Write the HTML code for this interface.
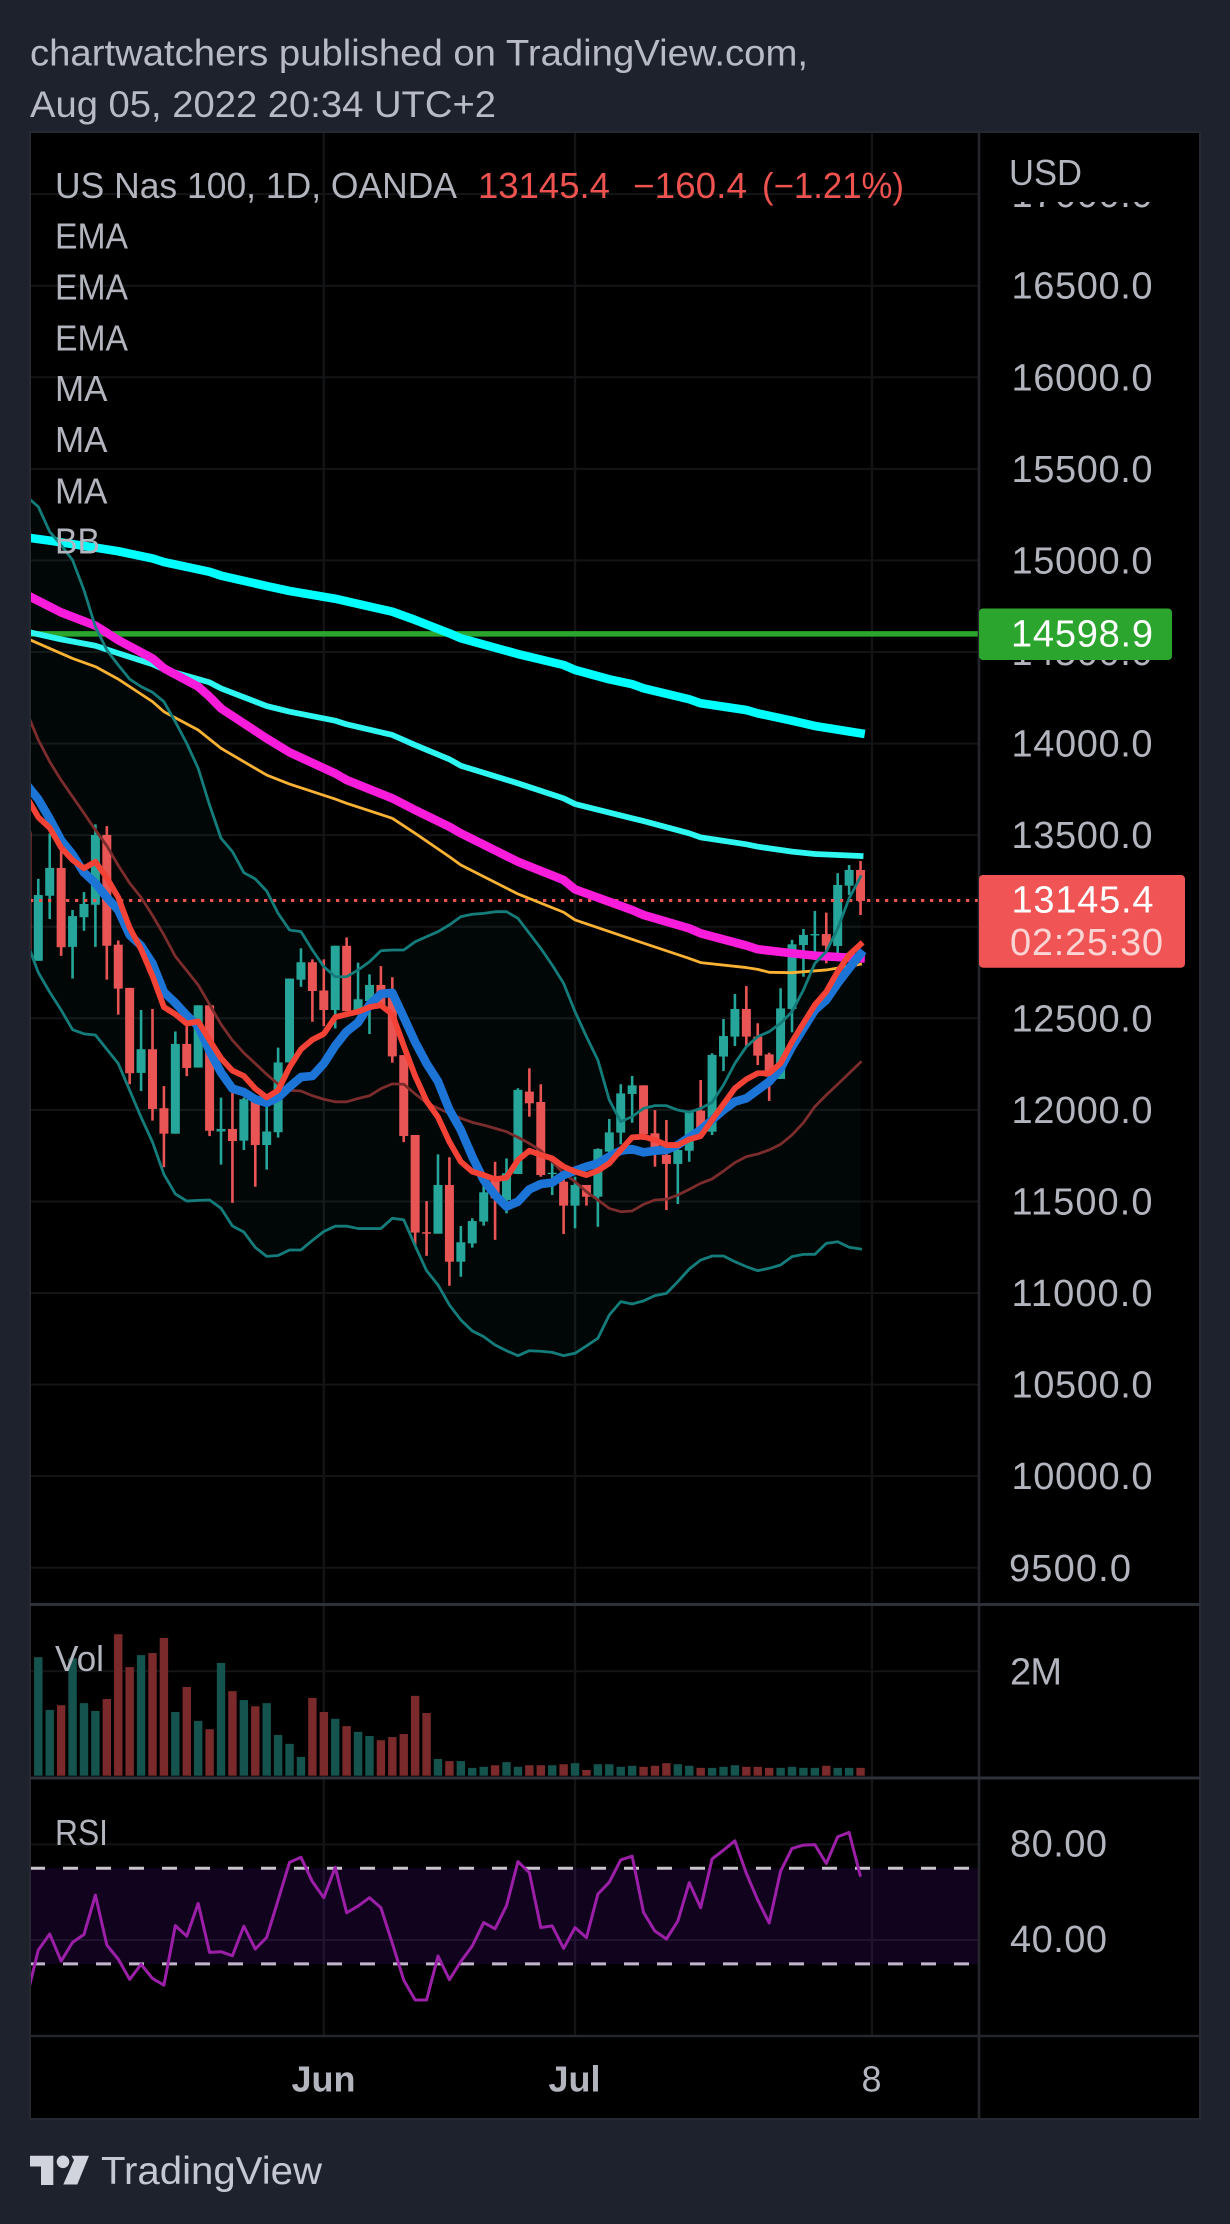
<!DOCTYPE html>
<html lang="en">
<head>
<meta charset="utf-8">
<title>US Nas 100 chart</title>
<style>
html,body{margin:0;padding:0;background:#1e222d;width:1230px;height:2224px;overflow:hidden}
svg{display:block;font-family:"Liberation Sans",sans-serif}
text{fill:#b2b5be}
</style>
</head>
<body>
<svg id="chart" xmlns="http://www.w3.org/2000/svg" width="1230" height="2224" viewBox="0 0 1230 2224">
<defs>
<clipPath id="price-clip"><rect x="30" y="133" width="949" height="1470"/></clipPath>
<clipPath id="volume-clip"><rect x="31" y="1606" width="948" height="171"/></clipPath>
<clipPath id="pane-clip"><rect x="30" y="133" width="949" height="1903"/></clipPath>
<clipPath id="axis-clip"><rect x="981" y="202" width="218" height="1400"/></clipPath>
</defs>
<rect x="0" y="0" width="1230" height="2224" fill="#1e222d"/>
<text x="30" y="65.6" font-size="37" textLength="778" lengthAdjust="spacingAndGlyphs" style="fill:#b8bbc6">chartwatchers published on TradingView.com,</text>
<text x="30" y="117" font-size="37" textLength="466" lengthAdjust="spacingAndGlyphs" style="fill:#b8bbc6">Aug 05, 2022 20:34 UTC+2</text>
<rect x="30" y="132" width="1170" height="1987" fill="#000"/>
<g id="grid"></g>
<g id="bb-fill-layer" clip-path="url(#price-clip)"></g>
<g id="candles" clip-path="url(#price-clip)"></g>
<line x1="30" x2="979" y1="900.5" y2="900.5" stroke="#ef5350" stroke-width="3" stroke-dasharray="3.3 5.7"/>
<g id="lines" clip-path="url(#price-clip)"></g>
<g id="volume" clip-path="url(#volume-clip)"></g>
<g id="rsi" clip-path="url(#pane-clip)"></g>
<g id="axis-labels" clip-path="url(#axis-clip)"></g>

<g fill="none">
<rect x="30" y="132" width="1170" height="1987" stroke="#262932" stroke-width="2"/>
<line x1="979" x2="979" y1="132" y2="2119" stroke="#24262c" stroke-width="2.6"/>
<line x1="30" x2="1200" y1="1604.5" y2="1604.5" stroke="#2e303a" stroke-width="3"/>
<line x1="30" x2="1200" y1="1778" y2="1778" stroke="#2e303a" stroke-width="3"/>
<line x1="30" x2="1200" y1="2036" y2="2036" stroke="#24262c" stroke-width="2.6"/>
</g>

<rect x="979" y="608.5" width="193" height="51.5" rx="4" fill="#2ba52e"/>
<text x="1011" y="646.4" font-size="38" textLength="142" style="fill:#fff">14598.9</text>
<rect x="979" y="875" width="206" height="92.7" rx="4" fill="#f05454"/>
<text x="1011.5" y="912.7" font-size="38" textLength="142" style="fill:#fff">13145.4</text>
<text x="1010" y="955" font-size="38" textLength="153" style="fill:#fbd4d3">02:25:30</text>
<rect x="981" y="134" width="218" height="68" fill="#000"/>
<text x="1009" y="185" font-size="36" textLength="73" lengthAdjust="spacingAndGlyphs">USD</text>

<g font-size="36">
<text x="55" y="198" textLength="402" lengthAdjust="spacingAndGlyphs">US Nas 100, 1D, OANDA</text>
<text x="478" y="198" textLength="132" lengthAdjust="spacingAndGlyphs" style="fill:#ef5350">13145.4</text>
<text x="633" y="198" textLength="114" lengthAdjust="spacingAndGlyphs" style="fill:#ef5350">−160.4</text>
<text x="762" y="198" textLength="142" lengthAdjust="spacingAndGlyphs" style="fill:#ef5350">(−1.21%)</text>
<text x="55" y="248.7" textLength="73" lengthAdjust="spacingAndGlyphs">EMA</text>
<text x="55" y="299.5" textLength="73" lengthAdjust="spacingAndGlyphs">EMA</text>
<text x="55" y="350.4" textLength="73" lengthAdjust="spacingAndGlyphs">EMA</text>
<text x="55" y="401" textLength="52.5" lengthAdjust="spacingAndGlyphs">MA</text>
<text x="55" y="452" textLength="52.5" lengthAdjust="spacingAndGlyphs">MA</text>
<text x="55" y="503.6" textLength="52.5" lengthAdjust="spacingAndGlyphs">MA</text>
<text x="55" y="553.6" textLength="45" lengthAdjust="spacingAndGlyphs">BB</text>
<text x="55" y="1671" textLength="49" lengthAdjust="spacingAndGlyphs">Vol</text>
<text x="55" y="1845" textLength="53" lengthAdjust="spacingAndGlyphs">RSI</text>
</g>

<text x="323.5" y="2091.7" font-size="36" font-weight="700" text-anchor="middle">Jun</text>
<text x="574.5" y="2091.7" font-size="36" font-weight="700" text-anchor="middle">Jul</text>
<text x="871.5" y="2091.7" font-size="36" text-anchor="middle">8</text>

<g>
<polygon points="30,2155.7 53.3,2155.7 53.3,2185 41,2185 41,2166.5 30,2166.5" fill="#d1d4dc"/>
<circle cx="63" cy="2161.8" r="6.3" fill="#d1d4dc"/>
<polygon points="71.5,2155.7 89,2155.7 77.3,2184.5 63.3,2184.5 74,2160" fill="#d1d4dc"/>
<text x="101" y="2184" font-size="39" textLength="221" lengthAdjust="spacingAndGlyphs" style="fill:#c5c8d2">TradingView</text>
</g>
</svg>

<script>
// ---------- chart data (first entry of each per-bar array is the bar cut off at the left edge) ----------
const opens = [13520,12814,13169,13321,12890,13052,13120,13501,12902,12666,12202,12331,12009,11870,12360,12231,12571,11882,11896,11832,12058,11808,11878,12259,12711,12806,12652,12545,12896,12535,12594,12682,12613,12299,11863,11332,11324,11590,11171,11271,11390,11620,11508,11650,12100,12043,11650,11608,11477,11590,11526,11772,11876,12087,12134,11872,11754,11705,11777,11996,11881,12291,12400,12551,12400,12303,12169,12551,12900,12955,12960,12895,13224,13310];
const highs = [13530,13261,13510,13422,13091,13189,13559,13549,12925,12666,12545,12551,12130,12428,12477,12571,12571,12067,12097,12067,12067,12038,12340,12717,12882,12822,12822,12896,12941,12804,12740,12785,12724,12299,11863,11502,11757,11741,11366,11408,11599,11717,11735,12118,12227,12140,11745,11635,11635,11590,11790,11950,12140,12185,12134,11999,11945,11790,11996,12163,12309,12496,12633,12676,12473,12312,12664,12928,12988,13086,13077,13292,13337,13359];
const lows = [12840,12814,13042,12841,12717,12978,12890,12711,12520,12140,12103,11941,11687,11870,12184,12231,11857,11701,11492,11781,11580,11674,11849,12259,12672,12481,12457,12444,12539,12535,12414,12565,12258,11824,11258,11203,11324,11040,11089,11248,11368,11290,11435,11650,11963,11635,11535,11322,11353,11477,11362,11763,11812,11930,11836,11690,11453,11486,11717,11854,11863,12212,12349,12345,12245,12049,12169,12423,12727,12818,12800,12855,13173,13064];
const closes = [12850,13173,13321,12888,13058,13124,13501,12896,12662,12200,12331,12005,11870,12360,12229,12571,11886,11896,11830,12058,11808,11882,12259,12717,12806,12649,12545,12896,12539,12604,12682,12565,12292,11857,11330,11324,11590,11171,11277,11393,11550,11517,11654,12109,12036,11644,11657,11477,11590,11526,11786,11877,12090,12134,11867,11790,11705,11781,11990,11872,12300,12403,12551,12400,12296,12181,12554,12904,12955,12960,12897,13228,13310,13141];
const volumesM = [0.9,2.27,1.26,1.35,2.25,1.39,1.24,1.47,2.71,2.08,2.31,2.35,2.64,1.22,1.70,1.05,0.89,2.16,1.62,1.45,1.33,1.39,0.78,0.61,0.36,1.49,1.22,1.09,0.95,0.84,0.76,0.68,0.74,0.80,1.53,1.20,0.32,0.28,0.28,0.15,0.17,0.20,0.26,0.17,0.20,0.20,0.20,0.22,0.24,0.11,0.22,0.22,0.17,0.19,0.17,0.19,0.24,0.22,0.19,0.15,0.15,0.17,0.20,0.17,0.17,0.15,0.15,0.17,0.15,0.15,0.19,0.15,0.15,0.15];
const rsiValues = [16.3,35.8,42.5,31.2,39,42.3,58.8,37.9,32,23.5,29.8,23.9,21.1,46,41.6,55.3,34.8,35.1,33.4,45.8,36.2,41.1,56.7,72.5,74.6,64.4,57.7,70.4,51.4,54.2,57.7,53.5,38.6,23.2,14.9,14.9,33.3,23.4,31,37.5,47.3,44.7,54.4,72.8,68.2,45.2,45.9,36.5,45.2,41,59.2,64.2,73.5,75.1,51.5,43.7,40.4,47.9,64,53.5,73.9,77.6,81.5,67.9,56.7,47.1,68.8,78.3,79.7,79.9,72,83.2,85,66.5];
const bbUpper = [15348,15293,15157,15084,15002,14838,14638,14511,14429,14352,14311,14280,14229,14119,14001,13865,13664,13483,13410,13295,13261,13195,13073,12982,12973,12873,12782,12727,12727,12764,12809,12869,12873,12873,12918,12946,12973,13010,13055,13068,13073,13082,13082,13046,12964,12882,12791,12691,12536,12400,12272,12054,11936,11963,12008,12023,12023,11999,11987,12008,12041,12136,12254,12345,12400,12427,12473,12536,12655,12800,12864,12991,13155,13273];
const bbLower = [12916,12750,12643,12545,12438,12415,12409,12331,12253,12107,11960,11824,11648,11541,11502,11506,11508,11463,11366,11333,11249,11200,11205,11235,11235,11287,11336,11365,11365,11352,11352,11352,11408,11400,11258,11122,11044,10935,10853,10793,10762,10716,10685,10658,10685,10682,10676,10658,10671,10711,10753,10880,10953,10940,10957,10986,10998,11062,11131,11180,11202,11202,11171,11144,11122,11135,11153,11199,11211,11211,11271,11280,11250,11240];
const bbBasis = [14170,14020,13901,13800,13710,13620,13528,13442,13335,13238,13160,13062,12955,12838,12760,12682,12575,12467,12380,12311,12253,12194,12140,12107,12103,12077,12058,12044,12044,12062,12077,12116,12142,12140,12087,12038,12009,11981,11954,11932,11917,11899,11881,11850,11817,11777,11717,11654,11608,11553,11508,11462,11444,11448,11484,11508,11512,11535,11566,11599,11623,11666,11712,11745,11759,11781,11812,11863,11930,12018,12081,12140,12200,12260];
const emaFast = [13706,13598,13540,13432,13364,13319,13355,13267,13160,12994,12877,12731,12561,12522,12471,12483,12380,12282,12214,12185,12116,12068,12107,12233,12331,12383,12415,12506,12522,12536,12561,12571,12522,12350,12185,12048,11960,11825,11717,11663,11644,11621,11630,11726,11777,11754,11735,11690,11663,11644,11668,11708,11781,11850,11854,11836,11808,11808,11839,11857,11945,12032,12118,12167,12200,12200,12254,12372,12473,12573,12645,12755,12846,12904];
const emaMid = [13774,13696,13589,13472,13394,13296,13238,13160,13091,12955,12896,12799,12643,12584,12516,12458,12321,12204,12116,12097,12058,12038,12068,12126,12179,12185,12253,12350,12428,12477,12574,12633,12639,12506,12370,12253,12155,12000,11890,11745,11617,11535,11472,11499,11566,11595,11603,11644,11668,11690,11708,11745,11777,11786,11768,11777,11781,11808,11850,11890,11945,12000,12045,12063,12109,12154,12227,12345,12445,12545,12600,12691,12773,12851];

// Slow averages, read at the bars where their slope visibly changes.
const ma200Bars = [-1,1,5,7,10,11,15,16,20,22,26,27,31,33,36,37,42,46,47,50,52,53,57,58,62,63,66,68,72];
const ma200Values = [15125,15108,15070,15050,15011,14991,14938,14917,14860,14833,14791,14777,14720,14675,14602,14575,14489,14429,14402,14351,14324,14302,14242,14220,14183,14165,14125,14096,14056];
const ema200Bars = [-1,2,5,7,10,11,14,15,16,20,22,26,27,31,33,36,37,42,46,47,52,53,57,58,62,63,66,68,72];
const ema200Values = [14611,14569,14534,14493,14433,14405,14352,14334,14301,14205,14174,14125,14105,14047,13992,13914,13879,13783,13701,13670,13592,13577,13510,13488,13450,13437,13410,13397,13386];
const ma100Bars = [-1,2,5,6,7,10,11,14,15,16,20,22,26,27,31,33,36,37,42,46,47,52,53,57,58,62,63,66,68,71,72];
const ma100Values = [14811,14716,14644,14605,14565,14465,14411,14311,14256,14192,14028,13952,13837,13801,13701,13637,13546,13510,13355,13255,13204,13091,13064,12991,12964,12897,12877,12855,12842,12831,12828];
const ema100Bars = [-1,3,5,7,10,11,14,16,20,22,26,27,31,33,36,37,42,46,47,52,57,58,62,63,64,66,69,72];
const ema100Values = [14574,14465,14420,14352,14229,14174,14074,13974,13828,13779,13697,13674,13592,13510,13382,13337,13179,13079,13037,12931,12827,12804,12777,12767,12751,12749,12764,12795];

const priceTicks = [17000,16500,16000,15500,15000,14500,14000,13500,13000,12500,12000,11500,11000,10500,10000,9500];
const resistanceLevel = [14598.9];
const volumeTicks = [2];
const volumeTickLabels = ['2M'];
const rsiTicks = [80,40];
const rsiBands = [70,30];
const timeTickBars = [25,47,73];

// ---------- axis functions ----------
const xBar = i => 38.3 + 11.42 * i;
const yPrice = p => 1018.3 + (12500 - p) * 0.18315;
const yVolume = v => 1775.7 - v * 52.2;
const yRsi = r => 1940 + (40 - r) * 2.39;
const SVGNS = 'http://www.w3.org/2000/svg';
function make(tag, attrs, parent) {
  const el = document.createElementNS(SVGNS, tag);
  for (const k in attrs) el.setAttribute(k, attrs[k]);
  parent.appendChild(el);
  return el;
}
const perBarPoints = (vals, yFn) => vals.map((v, k) => xBar(k - 1).toFixed(2) + ',' + yFn(v).toFixed(2));
const sparsePoints = (bars, vals, yFn) => bars.map((b, k) => xBar(b).toFixed(2) + ',' + yFn(vals[k]).toFixed(2));

// ---------- grid ----------
const gridG = document.getElementById('grid');
priceTicks.forEach(p => {
  const el = make('line', {x1:30, x2:979, y1:yPrice(p), y2:yPrice(p), stroke:'#131416', 'stroke-width':2}, gridG);
  
  
});
volumeTicks.forEach(v => {
  const el = make('line', {x1:30, x2:979, y1:yVolume(v), y2:yVolume(v), stroke:'#131416', 'stroke-width':2}, gridG);
  
  
});
rsiTicks.forEach(r => {
  const el = make('line', {x1:30, x2:979, y1:yRsi(r), y2:yRsi(r), stroke:'#131416', 'stroke-width':2}, gridG);
  
  
});
timeTickBars.forEach(b => {
  const el = make('line', {x1:xBar(b), x2:xBar(b), y1:133, y2:2036, stroke:'#131416', 'stroke-width':2.4}, gridG);
  
  
});

// ---------- bollinger fill ----------
const fillPts = perBarPoints(bbUpper, yPrice).concat(perBarPoints(bbLower, yPrice).reverse()).join(' ');
const bbFill = make('polygon', {points:fillPts, fill:'#26a69a', 'fill-opacity':0.04}, document.getElementById('bb-fill-layer'));



// ---------- candles ----------
const candleG = document.getElementById('candles');
closes.forEach((c, k) => {
  const o = opens[k];
  const up = c >= o;
  const col = up ? '#26a69a' : '#e95555';
  const x = xBar(k - 1);
  const wick = make('line', {x1:x, x2:x, y1:yPrice(highs[k]), y2:yPrice(lows[k]), stroke:col, 'stroke-width':2.6}, candleG);
  
  
  const top = yPrice(Math.max(o, c));
  const bot = yPrice(Math.min(o, c));
  const body = make('rect', {x:x - 4.5, y:top, width:9, height:Math.max(bot - top, 1.4), fill:col}, candleG);
  
  
});

// ---------- overlay lines ----------
const lineG = document.getElementById('lines');
function overlay(points, color, width, name) {
  const el = make('polyline', {points:points.join(' '), fill:'none', stroke:color, 'stroke-width':width, 'stroke-linejoin':'round', 'stroke-linecap':'square'}, lineG);
  
  
}
const levelEl = make('line', {x1:30, x2:979, y1:yPrice(resistanceLevel[0]), y2:yPrice(resistanceLevel[0]), stroke:'#2ba52e', 'stroke-width':5.4}, lineG);


overlay(sparsePoints(ma200Bars, ma200Values, yPrice), '#00ffff', 8.6, 'ma-200-line');
overlay(sparsePoints(ema200Bars, ema200Values, yPrice), '#2ef7f2', 5.8, 'ema-200-line');
overlay(sparsePoints(ma100Bars, ma100Values, yPrice), '#f91cdb', 8.6, 'ma-100-line');
overlay(sparsePoints(ema100Bars, ema100Values, yPrice), '#f9b233', 2.8, 'ema-100-line');
overlay(perBarPoints(bbBasis, yPrice), '#7b2c2c', 2.8, 'bollinger-basis-line');
overlay(perBarPoints(bbUpper, yPrice), '#147d7b', 2.8, 'bollinger-upper-line');
overlay(perBarPoints(bbLower, yPrice), '#147d7b', 2.8, 'bollinger-lower-line');
overlay(perBarPoints(emaMid, yPrice), '#1b74d6', 8.6, 'ema-mid-line');
overlay(perBarPoints(emaFast, yPrice), '#f44336', 5.8, 'ema-fast-line');

// ---------- volume ----------
const volG = document.getElementById('volume');
volumesM.forEach((v, k) => {
  const up = closes[k] >= opens[k];
  const yTop = yVolume(v);
  const bar = make('rect', {x:xBar(k - 1) - 4.2, y:yTop, width:8.4, height:yVolume(0) - yTop, fill:up ? '#15544e' : '#7a2a2a'}, volG);
  
  
});

// ---------- RSI ----------
const rsiG = document.getElementById('rsi');
const rsiBand = make('rect', {x:30, y:yRsi(rsiBands[0]), width:949, height:yRsi(rsiBands[1]) - yRsi(rsiBands[0]), fill:'rgb(85,15,150)', 'fill-opacity':0.2}, rsiG);


rsiBands.forEach(r => {
  const el = make('line', {x1:30, x2:979, y1:yRsi(r), y2:yRsi(r), stroke:r === rsiBands[0] ? '#c9c5cd' : '#c3b6cc', 'stroke-width':3, 'stroke-dasharray':'15 18'}, rsiG);
  
  
});
const rsiLine = make('polyline', {points:perBarPoints(rsiValues, yRsi).join(' '), fill:'none', stroke:'#9c1fa8', 'stroke-width':3, 'stroke-linejoin':'round'}, rsiG);



// ---------- axis labels ----------
const axisG = document.getElementById('axis-labels');
priceTicks.forEach(p => {
  const big = p >= 10000;
  const el = make('text', {x:big ? 1011.5 : 1009, y:yPrice(p) + 13, 'font-size':38, textLength:big ? 141 : 122}, axisG);
  el.textContent = p.toFixed(1);
  
  
});
const svgRoot = document.getElementById('chart');
volumeTicks.forEach((v, k) => {
  const el = make('text', {x:1010, y:yVolume(v) + 13, 'font-size':38, textLength:52}, svgRoot);
  el.textContent = volumeTickLabels[k];
  
  
});
rsiTicks.forEach(r => {
  const el = make('text', {x:1010, y:yRsi(r) + 12, 'font-size':38, textLength:97}, svgRoot);
  el.textContent = r.toFixed(2);
  
  
});
</script>
</body>
</html>
